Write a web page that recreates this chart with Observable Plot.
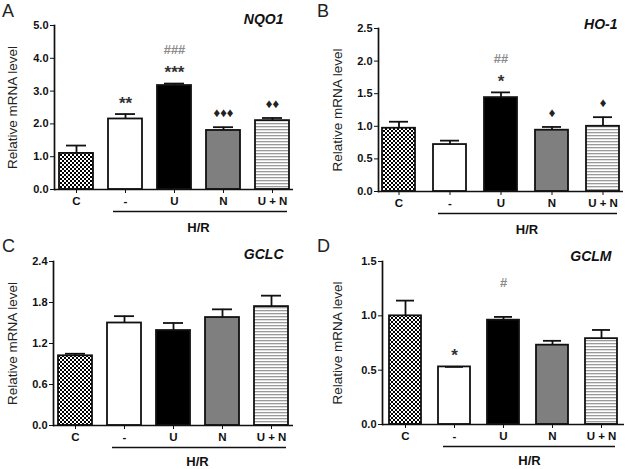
<!DOCTYPE html>
<html><head><meta charset="utf-8">
<script src="https://cdn.jsdelivr.net/npm/d3@7"></script>
<script src="https://cdn.jsdelivr.net/npm/@observablehq/plot@0.6"></script>
<style>
body{margin:0;background:#fff;}
#wrap{position:relative;width:630px;height:469px;font-family:"Liberation Sans",Arial,sans-serif;overflow:hidden;}
.panel{position:absolute;width:315px;height:235px;}
.letter{position:absolute;font-size:18px;color:#222;line-height:18px;}
</style></head>
<body><div id="wrap"></div>
<script>
// ---- data ----
const categories = ["C", "-", "U", "N", "U + N"];
const groupLabel = "H/R";
const yLabel = "Relative mRNA level";

const genes = ["NQO1", "HO-1", "GCLC", "GCLM"];
const letters = ["A", "B", "C", "D"];

const nqo1Mean = [1.10, 2.15, 3.17, 1.80, 2.10];
const nqo1Err  = [1.34, 2.30, 3.23, 1.90, 2.18];
const nqo1Sig1 = ["", "**", "***", "\u2666\u2666\u2666", "\u2666\u2666"];
const nqo1Sig2 = ["", "", "###", "", ""];
const nqo1Ticks = [0, 1, 2, 3, 4, 5];

const ho1Mean = [0.97, 0.72, 1.44, 0.94, 1.00];
const ho1Err  = [1.07, 0.78, 1.52, 0.99, 1.14];
const ho1Sig1 = ["", "", "*", "\u2666", "\u2666"];
const ho1Sig2 = ["", "", "##", "", ""];
const ho1Ticks = [0, 0.5, 1, 1.5, 2, 2.5];

const gclcMean = [1.02, 1.50, 1.39, 1.58, 1.74];
const gclcErr  = [1.05, 1.60, 1.50, 1.70, 1.90];
const gclcSig1 = ["", "", "", "", ""];
const gclcSig2 = ["", "", "", "", ""];
const gclcTicks = [0, 0.6, 1.2, 1.8, 2.4];

const gclmMean = [1.00, 0.53, 0.96, 0.73, 0.79];
const gclmErr  = [1.14, 0.53, 0.99, 0.77, 0.87];
const gclmSig1 = ["", "*", "", "", ""];
const gclmSig2 = ["", "", "#", "", ""];
const gclmTicks = [0, 0.5, 1.0, 1.5];

// ---- drawing ----
const FONT = '"Liberation Sans", Arial, sans-serif';
const wrap = document.getElementById("wrap");
const isStar = s => s.indexOf("*") >= 0;

function makePanel(id, gene, mean, err, sig1, sig2, ticks, lay) {
  const fills = [`url(#chk-${id})`, "#ffffff", "#000000", "#7f7f7f", `url(#str-${id})`];
  const data = categories.map((c, i) => ({cat: c, v: mean[i], e: err[i], f: fills[i], s1: sig1[i], s2: sig2[i]}));
  const stars = data.filter(d => isStar(d.s1));
  const dias = data.filter(d => d.s1 && !isStar(d.s1));
  const svg = Plot.plot({
    width: 315, height: 235,
    marginLeft: lay.mL, marginRight: lay.mR, marginTop: lay.mT, marginBottom: lay.mB,
    style: {fontFamily: FONT, fontSize: "10.5px", fontWeight: "bold", color: "#111", background: "transparent", overflow: "visible"},
    x: {domain: categories, paddingInner: lay.pi, paddingOuter: lay.po, label: null},
    y: {domain: [0, ticks[ticks.length - 1]], label: null},
    color: {type: "identity"},
    marks: [
      Plot.axisY({ticks: ticks, tickFormat: lay.fmt, tickSize: 4, tickPadding: 2, label: null, fontSize: 11}),
      Plot.axisX({tickSize: 4, tickPadding: 3, label: null, fontSize: 11.5}),
      Plot.barY(data, {x: "cat", y: "v", fill: "f", stroke: "#111", strokeWidth: 1.8}),
      Plot.ruleX(data, {x: "cat", y1: "v", y2: "e", stroke: "#111", strokeWidth: 1.8}),
      Plot.tickY(data, {x: "cat", y: "e", inset: 7, stroke: "#111", strokeWidth: 1.8}),
      Plot.ruleY([0], {stroke: "#111", strokeWidth: 1.7}),
      Plot.frame({anchor: "left", stroke: "#111", strokeWidth: 1.7}),
      Plot.text(stars, {x: "cat", y: "e", text: "s1", dy: -11, fontSize: 17, fill: "#333", lineAnchor: "middle"}),
      Plot.text(dias, {x: "cat", y: "e", text: "s1", dy: -14, fontSize: 13, fill: "#222", lineAnchor: "middle"}),
      Plot.text(data, {x: "cat", y: "e", text: "s2", dy: -34, fontSize: 13, fill: "#8a8a8a", lineAnchor: "middle"}),
      Plot.ruleY([{y: 0, from: "-", to: "U + N"}], {y: "y", x1: "from", x2: "to", dy: 22, insetLeft: 5, insetRight: 2, stroke: "#111", strokeWidth: 1.5}),
      Plot.text([{y: 0, at: "U", t: groupLabel}], {x: "at", y: "y", text: "t", dy: lay.hrdy, dx: lay.hrdx, fontSize: 13, lineAnchor: "middle"}),
      Plot.text([yLabel], {frameAnchor: "left", text: d => d, rotate: -90, dx: -(lay.mL - lay.ylx), textAnchor: "middle", fontSize: 13.5, fontWeight: "normal", fill: "#222", lineAnchor: "middle"}),
      Plot.text([gene], {frameAnchor: "top-right", text: d => d, dx: lay.gdx, dy: lay.gdy, textAnchor: "end", lineAnchor: "middle", fontSize: 14, fontStyle: "italic", fontWeight: "bold"})
    ]
  });
  const defs = d3.select(svg).insert("defs", ":first-child");
  const chk = defs.append("pattern").attr("id", `chk-${id}`).attr("patternUnits", "userSpaceOnUse").attr("width", 4).attr("height", 4);
  chk.append("rect").attr("width", 4).attr("height", 4).attr("fill", "#000");
  chk.append("rect").attr("x", 0).attr("y", 0).attr("width", 2).attr("height", 2).attr("fill", "#fff");
  chk.append("rect").attr("x", 2).attr("y", 2).attr("width", 2).attr("height", 2).attr("fill", "#fff");
  const str = defs.append("pattern").attr("id", `str-${id}`).attr("patternUnits", "userSpaceOnUse").attr("width", 4).attr("height", 3);
  str.append("rect").attr("width", 4).attr("height", 3).attr("fill", "#fff");
  str.append("rect").attr("y", 0).attr("width", 4).attr("height", 1.3).attr("fill", "#9a9a9a");

  const div = document.createElement("div");
  div.className = "panel";
  div.style.left = lay.left + "px";
  div.style.top = lay.top + "px";
  div.appendChild(svg);
  const L = document.createElement("div");
  L.className = "letter";
  L.textContent = lay.letter;
  L.style.left = "2px";
  L.style.top = "2px";
  div.appendChild(L);
  wrap.appendChild(div);
}

const f1 = d3.format(".1f");
makePanel("a", genes[0], nqo1Mean, nqo1Err, nqo1Sig1, nqo1Sig2, nqo1Ticks,
  {left: 0, top: 0, letter: letters[0], mL: 54, mR: 22, mT: 25, mB: 46, pi: 0.31, po: 0.08, fmt: f1, hrdx: 24, hrdy: 38, ylx: 12, gdx: -10, gdy: -6});
makePanel("b", genes[1], ho1Mean, ho1Err, ho1Sig1, ho1Sig2, ho1Ticks,
  {left: 315, top: 0, letter: letters[1], mL: 63, mR: 7, mT: 28, mB: 44, pi: 0.36, po: 0.06, fmt: f1, hrdx: 26, hrdy: 38, ylx: 22, gdx: -6, gdy: -4});
makePanel("c", genes[2], gclcMean, gclcErr, gclcSig1, gclcSig2, gclcTicks,
  {left: 0, top: 235, letter: letters[2], mL: 53, mR: 22, mT: 26, mB: 45, pi: 0.31, po: 0.08, fmt: f1, hrdx: 24, hrdy: 36, ylx: 12, gdx: -10, gdy: -7});
makePanel("d", genes[3], gclmMean, gclmErr, gclmSig1, gclmSig2, gclmTicks,
  {left: 315, top: 235, letter: letters[3], mL: 67, mR: 6, mT: 26, mB: 46, pi: 0.34, po: 0.1, fmt: f1, hrdx: 26, hrdy: 36, ylx: 22, gdx: -13, gdy: -5});
</script>
</body></html>
